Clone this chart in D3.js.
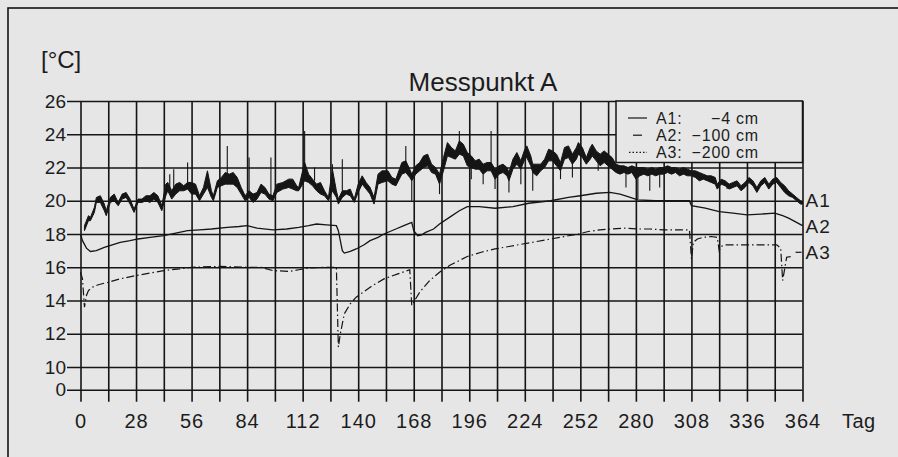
<!DOCTYPE html>
<html>
<head>
<meta charset="utf-8">
<title>Messpunkt A</title>
<script src="https://cdn.jsdelivr.net/npm/d3@7"></script>
<style>
  body { margin: 0; background: #e6e6e6; }
  svg { display: block; font-family: "Liberation Sans", Arial, sans-serif; }
  text { fill: #1c1c1c; }
</style>
</head>
<body>
<svg width="898" height="457"></svg>
<script>

// A1 (-4 cm): day, daily min, daily max in °C
const a1Band = [
  [2, 18.2, 18.5], [4, 18.8, 19.1], [5, 18.8, 19.0], [7, 19.3, 19.6], [8, 19.9, 20.2],
  [10, 19.9, 20.3], [12, 19.4, 19.8], [13, 19.1, 19.4], [15, 19.9, 20.2], [17, 20.0, 20.4],
  [19, 19.7, 19.9], [21, 20.1, 20.4], [23, 20.2, 20.5], [25, 19.8, 20.1], [27, 19.3, 19.5],
  [29, 19.9, 20.1], [31, 19.9, 20.1], [33, 20.0, 20.3], [35, 19.9, 20.3], [37, 20.1, 20.5],
  [39, 19.9, 20.3], [41, 19.4, 19.7], [43, 20.3, 21.0], [44, 20.6, 21.1], [46, 20.1, 20.6],
  [48, 20.4, 21.0], [50, 20.6, 21.1], [52, 20.6, 20.9], [54, 20.7, 21.1], [56, 20.4, 21.1],
  [58, 20.4, 21.0], [60, 20.0, 20.3], [62, 20.4, 20.8], [64, 20.8, 21.8], [66, 20.2, 20.6],
  [67, 20.0, 20.3], [69, 20.8, 21.2], [71, 20.9, 21.4], [73, 21.0, 21.7], [75, 21.0, 21.6],
  [77, 21.0, 21.7], [79, 20.8, 21.4], [81, 20.4, 20.8], [83, 20.0, 20.3], [85, 20.2, 20.6],
  [87, 19.9, 20.4], [89, 20.1, 20.5], [91, 20.5, 21.0], [93, 20.4, 20.8], [95, 20.1, 20.4],
  [97, 20.0, 20.3], [99, 20.5, 21.0], [102, 20.7, 21.1], [105, 20.8, 21.3], [107, 20.7, 21.3],
  [109, 20.6, 20.9], [110, 20.6, 20.8], [112, 21.0, 21.8], [113, 21.2, 22.3], [115, 21.1, 21.6],
  [117, 20.9, 21.3], [119, 20.6, 21.0], [121, 20.4, 21.1], [123, 20.3, 20.6], [125, 20.0, 20.2],
  [127, 20.6, 21.9], [129, 20.2, 20.6], [130, 19.8, 20.1], [132, 20.2, 20.6], [134, 20.4, 20.6],
  [136, 20.3, 20.7], [138, 19.9, 20.1], [140, 20.5, 21.0], [142, 21.0, 21.5], [144, 20.7, 21.1],
  [146, 20.4, 20.8], [148, 19.8, 20.2], [150, 21.0, 21.6], [152, 21.1, 21.8], [155, 21.2, 21.8],
  [157, 21.0, 21.4], [159, 20.9, 21.3], [162, 21.6, 22.3], [164, 21.7, 22.4], [166, 21.4, 21.9],
  [167, 21.2, 21.6], [169, 21.6, 22.1], [171, 21.8, 22.3], [173, 22.0, 22.7], [175, 22.1, 22.8],
  [177, 21.7, 22.2], [179, 21.6, 22.0], [181, 21.0, 21.6], [183, 21.8, 22.6], [185, 22.7, 23.5],
  [187, 22.6, 23.2], [189, 22.5, 23.0], [191, 22.8, 23.6], [193, 22.7, 23.4], [195, 22.1, 22.9],
  [197, 22.0, 22.7], [199, 21.9, 22.4], [201, 21.9, 22.5], [203, 21.6, 22.2], [205, 21.8, 22.3],
  [207, 21.8, 22.3], [209, 21.3, 21.9], [211, 21.6, 22.1], [213, 21.7, 22.2], [215, 21.5, 22.0],
  [216, 21.2, 21.7], [218, 21.9, 22.5], [220, 22.2, 22.9], [222, 21.9, 22.4], [224, 22.5, 23.1],
  [225, 22.6, 23.3], [227, 22.1, 22.7], [228, 21.7, 22.2], [230, 21.5, 22.2], [232, 21.8, 22.2],
  [234, 22.0, 22.5], [236, 22.4, 23.1], [238, 22.4, 23.0], [240, 22.1, 22.8], [242, 21.8, 22.3],
  [244, 22.5, 23.2], [246, 22.6, 23.3], [248, 22.2, 22.8], [250, 22.5, 23.2], [251, 22.8, 23.5],
  [253, 22.6, 23.2], [255, 22.2, 22.6], [257, 22.5, 23.2], [258, 22.7, 23.4], [260, 22.4, 23.0],
  [262, 22.1, 22.8], [264, 22.3, 23.0], [266, 22.1, 22.8], [268, 21.9, 22.6], [270, 21.7, 22.2],
  [272, 21.6, 22.1], [274, 21.7, 22.1], [276, 21.6, 22.0], [278, 21.7, 22.1], [280, 21.3, 22.0],
  [282, 21.5, 22.0], [284, 21.6, 22.0], [286, 21.5, 21.9], [288, 21.6, 22.0], [290, 21.5, 21.9],
  [292, 21.6, 22.0], [294, 21.6, 22.0], [296, 21.7, 22.1], [298, 21.6, 22.0], [300, 21.7, 22.0],
  [302, 21.5, 21.9], [304, 21.6, 22.0], [306, 21.5, 21.9], [308, 21.5, 21.8], [310, 21.4, 21.8],
  [312, 21.2, 21.7], [314, 21.3, 21.6], [316, 21.2, 21.5], [318, 21.1, 21.5], [320, 21.0, 21.4],
  [321, 20.7, 21.0], [323, 21.0, 21.3], [325, 20.9, 21.2], [327, 20.7, 21.0], [329, 20.8, 21.1],
  [331, 20.9, 21.2], [333, 20.6, 20.9], [335, 20.8, 21.1], [337, 21.1, 21.4], [339, 20.9, 21.2],
  [341, 20.5, 20.8], [343, 20.9, 21.2], [345, 21.1, 21.4], [347, 20.7, 21.0], [349, 21.0, 21.3],
  [351, 21.1, 21.4], [353, 20.8, 21.1], [355, 20.5, 20.9], [357, 20.3, 20.6], [359, 20.2, 20.4],
  [361, 20.0, 20.2], [363, 19.8, 20.0], [364, 19.8, 19.95]
];

// short peaks and drops of A1: day, from, to
const a1Spikes = [
  [45, 20.8, 21.6], [47, 20.6, 21.9], [54, 20.9, 22.3], [74, 21.4, 23.3], [85, 20.5, 22.6],
  [96, 20.3, 22.6], [113, 22.0, 24.2], [118, 21.2, 22.0], [127, 21.5, 22.2], [132, 20.6, 22.5],
  [164, 22.2, 23.3], [167, 21.5, 20.0], [181, 21.5, 20.4], [191, 23.4, 24.2], [197, 22.1, 21.3],
  [203, 21.9, 21.0], [207, 22.2, 24.2], [209, 21.4, 20.7], [216, 21.5, 20.5], [222, 22.0, 21.0],
  [228, 21.8, 20.6], [242, 22.0, 21.3], [248, 22.3, 21.4], [261, 22.5, 21.8], [275, 21.7, 20.8],
  [281, 21.6, 20.1], [287, 21.6, 20.6], [292, 21.6, 20.8], [326, 21.0, 20.7]
];

// A2 (-100 cm): day, °C
const a2Line = [
  [0, 18.0], [1, 17.6], [3, 17.15], [5, 16.95], [8, 17.0], [12, 17.2], [16, 17.35], [20, 17.5],
  [25, 17.6], [29, 17.7], [35, 17.8], [42, 17.9], [48, 18.05], [54, 18.2], [60, 18.25],
  [66, 18.3], [74, 18.4], [80, 18.45], [84, 18.5], [89, 18.35], [97, 18.25], [104, 18.3],
  [110, 18.4], [115, 18.5], [119, 18.6], [124, 18.55], [129, 18.5], [130, 18.2], [132, 17.0],
  [133, 16.85], [136, 16.95], [139, 17.1], [143, 17.35], [146, 17.6], [150, 17.8], [153, 18.0],
  [159, 18.3], [163, 18.5], [167, 18.7], [168, 18.2], [170, 17.9], [172, 17.95], [174, 18.1],
  [178, 18.3], [181, 18.6], [186, 19.0], [191, 19.4], [195, 19.65], [201, 19.65], [209, 19.55],
  [218, 19.65], [226, 19.85], [237, 20.0], [246, 20.2], [252, 20.3], [260, 20.45], [267, 20.5],
  [272, 20.4], [276, 20.25], [281, 20.05], [290, 20.0], [300, 20.0], [307, 20.0], [308, 19.7],
  [315, 19.55], [322, 19.35], [329, 19.25], [336, 19.15], [343, 19.2], [350, 19.25],
  [354, 19.1], [357, 18.95], [361, 18.7], [364, 18.5]
];

// A3 (-200 cm): day, °C
const a3Line = [
  [0, 15.7], [1, 15.3], [2, 13.6], [3, 14.3], [4, 14.6], [6, 14.8], [9, 14.95], [14, 15.1],
  [20, 15.3], [28, 15.5], [35, 15.65], [42, 15.8], [50, 15.9], [56, 16.0], [70, 16.05],
  [84, 16.0], [91, 16.0], [97, 15.8], [105, 15.75], [110, 15.85], [115, 15.95], [122, 16.0],
  [129, 16.0], [130, 11.2], [131, 12.0], [133, 13.2], [136, 13.8], [139, 14.2], [146, 14.8],
  [153, 15.3], [160, 15.6], [166, 15.85], [167, 13.7], [168, 13.9], [171, 14.5], [176, 15.2],
  [181, 15.7], [186, 16.1], [195, 16.65], [202, 16.9], [209, 17.1], [216, 17.25], [223, 17.4],
  [230, 17.55], [237, 17.7], [244, 17.85], [251, 18.0], [256, 18.15], [262, 18.25], [268, 18.3],
  [274, 18.35], [281, 18.3], [287, 18.3], [294, 18.25], [301, 18.25], [307, 18.25], [308, 16.5],
  [309, 17.5], [311, 17.7], [314, 17.8], [318, 17.85], [321, 17.8], [322, 17.0], [323, 17.25],
  [325, 17.35], [335, 17.35], [345, 17.35], [351, 17.35], [353, 17.15], [354, 15.2],
  [356, 16.6], [359, 16.65]
];

const dayTicks = d3.range(0, 365, 14);
const tempTicks = [0, 10, 12, 14, 16, 18, 20, 22, 24, 26];

const legendRows = [
  { key: 'A1:', depth: '−4 cm', style: 'solid' },
  { key: 'A2:', depth: '−100 cm', style: 'short' },
  { key: 'A3:', depth: '−200 cm', style: 'dotted' }
];

// name and end temperature for the labels at the right edge
const endLabels = [['A1', 20.05], ['A2', 18.5], ['A3', 16.9]];

const ink = '#151515';
const svg = d3.select('svg');

// scales (the axis is broken between 0 and 10)
const x = d3.scaleLinear().domain([0, 364]).range([80.5, 802.5]);
const y = d3.scaleLinear().domain([0, 10, 26]).range([389.7, 367, 101]);

// outer frame of the figure
svg.append('rect')
  .attr('x', 8).attr('y', 8)
  .attr('width', 920).attr('height', 480)
  .attr('fill', 'none')
  .attr('stroke', ink)
  .attr('stroke-width', 1.6);

// horizontal grid + labels
const yAxis = d3.axisLeft(y)
  .tickValues(tempTicks)
  .tickSize(x(364) - 67)
  .tickPadding(1);

svg.append('g')
  .attr('transform', `translate(${x(364)},0)`)
  .call(yAxis)
  .call(g => g.select('.domain').remove())
  .call(g => g.selectAll('line').attr('stroke', ink).attr('stroke-width', 1.6))
  .call(g => g.selectAll('text')
    .attr('font-size', 19)
    .attr('font-family', '"Liberation Sans", Arial, sans-serif')
    .attr('fill', ink));

// vertical grid + labels
const xAxis = d3.axisBottom(x)
  .tickValues(dayTicks)
  .tickSize(401.7 - y(26))
  .tickPadding(12)
  .tickFormat(d => d % 28 === 0 ? d : '');

svg.append('g')
  .attr('transform', `translate(0,${y(26)})`)
  .call(xAxis)
  .call(g => g.select('.domain').remove())
  .call(g => g.selectAll('line').attr('stroke', ink).attr('stroke-width', 1.6))
  .call(g => g.selectAll('text')
    .attr('font-size', 20)
    .attr('letter-spacing', 1)
    .attr('font-family', '"Liberation Sans", Arial, sans-serif')
    .attr('fill', ink));

// A3 dash-dot line
svg.append('path')
  .datum(a3Line)
  .attr('fill', 'none')
  .attr('stroke', ink)
  .attr('stroke-width', 1.2)
  .attr('stroke-dasharray', '8,3,1.5,3')
  .attr('d', d3.line().x(d => x(d[0])).y(d => y(d[1])));

// A2 thin solid line
svg.append('path')
  .datum(a2Line)
  .attr('fill', 'none')
  .attr('stroke', ink)
  .attr('stroke-width', 1.3)
  .attr('d', d3.line().x(d => x(d[0])).y(d => y(d[1])));

// A1 daily range as a black band
svg.append('path')
  .datum(a1Band)
  .attr('fill', ink)
  .attr('stroke', ink)
  .attr('stroke-width', 1)
  .attr('d', d3.area().x(d => x(d[0])).y0(d => y(d[1])).y1(d => y(d[2])));

svg.append('g')
  .selectAll('line')
  .data(a1Spikes)
  .join('line')
  .attr('x1', d => x(d[0])).attr('x2', d => x(d[0]))
  .attr('y1', d => y(d[1])).attr('y2', d => y(d[2]))
  .attr('stroke', ink)
  .attr('stroke-width', 1.1);

// legend box
const legX = 616;
const legend = svg.append('g');
legend.append('rect')
  .attr('x', legX).attr('y', y(26))
  .attr('width', x(364) - legX).attr('height', 61.5)
  .attr('fill', '#e6e6e6')
  .attr('stroke', ink)
  .attr('stroke-width', 1.5);

legendRows.forEach((r, i) => {
  const cy = 118 + i * 17.2;
  const sample = legend.append('line')
    .attr('y1', cy).attr('y2', cy)
    .attr('stroke', ink)
    .attr('stroke-width', 1.2);
  if (r.style === 'solid') sample.attr('x1', 628).attr('x2', 647);
  if (r.style === 'short') sample.attr('x1', 633).attr('x2', 642);
  if (r.style === 'dotted') sample.attr('x1', 629).attr('x2', 647).attr('stroke-dasharray', '1.5,2');
  legend.append('text')
    .attr('x', 656).attr('y', cy + 6)
    .attr('font-size', 16)
    .attr('letter-spacing', 0.8)
    .text(r.key);
  legend.append('text')
    .attr('x', 759).attr('y', cy + 6)
    .attr('text-anchor', 'end')
    .attr('font-size', 16)
    .attr('letter-spacing', 0.8)
    .text(r.depth);
});

// series names at the right edge
svg.append('g')
  .selectAll('text')
  .data(endLabels)
  .join('text')
  .attr('x', x(364) + 3)
  .attr('y', d => y(d[1]) + 7)
  .attr('font-size', 19)
  .attr('letter-spacing', 1)
  .text(d => d[0]);

svg.append('line')
  .attr('x1', x(360.5)).attr('x2', x(363.5))
  .attr('y1', y(16.9)).attr('y2', y(16.9))
  .attr('stroke', ink)
  .attr('stroke-width', 1.2);

// titles
svg.append('text')
  .attr('x', 483).attr('y', 91)
  .attr('text-anchor', 'middle')
  .attr('font-size', 26)
  .text('Messpunkt A');

svg.append('text')
  .attr('x', 41).attr('y', 68)
  .attr('font-size', 24)
  .text('[°C]');

svg.append('text')
  .attr('x', 842).attr('y', 428)
  .attr('font-size', 20)
  .attr('letter-spacing', 0.5)
  .text('Tag');

</script>
</body>
</html>
